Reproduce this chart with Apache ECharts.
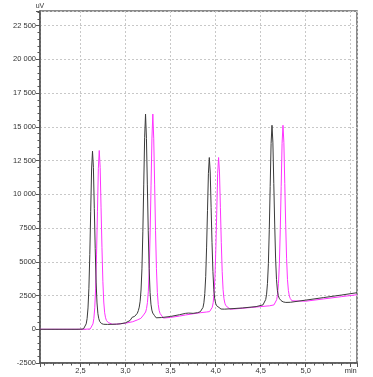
<!DOCTYPE html>
<html>
<head>
<meta charset="utf-8">
<script src="https://cdn.jsdelivr.net/npm/echarts@6/dist/echarts.min.js"></script>
<style>
html,body{margin:0;padding:0;background:#fff;}
#chart{width:373px;height:377px;}
</style>
</head>
<body>
<div id="chart"></div>
<script>
// Chromatogram traces: [time (min), signal (uV)]
const blackTrace = [
  [2.05,0],[2.45,0],[2.5,5],[2.533,26],[2.553,160],[2.563,400],[2.573,790],[2.583,1580],
  [2.593,3040],[2.603,5540],[2.613,8710],[2.623,11880],[2.633,13200],[2.643,12000],
  [2.653,8950],[2.663,5990],[2.673,3500],[2.683,1950],[2.693,1150],[2.703,780],[2.713,580],
  [2.733,420],[2.756,370],[2.8,360],[2.9,380],[2.94,400],[3.0,480],[3.05,650],[3.074,890],
  [3.1,950],[3.13,1180],[3.142,1380],[3.152,1640],[3.162,2080],[3.172,2910],[3.182,4480],
  [3.192,7220],[3.202,10700],[3.212,14230],[3.222,15950],[3.232,14130],[3.242,10700],
  [3.252,7300],[3.262,4500],[3.272,2740],[3.282,1860],[3.292,1420],[3.302,1200],[3.322,1010],
  [3.34,850],[3.4,870],[3.5,950],[3.6,1080],[3.667,1180],[3.7,1200],[3.75,1180],[3.8,1230],
  [3.83,1300],[3.85,1420],[3.86,1620],[3.87,1960],[3.88,2650],[3.89,3900],[3.9,6090],
  [3.91,8820],[3.92,11560],[3.93,12730],[3.94,11660],[3.95,9040],[3.96,6440],[3.97,4290],
  [3.98,2930],[3.99,2260],[4.0,1930],[4.01,1755],[4.03,1617],[4.06,1500],[4.1,1490],
  [4.3,1580],[4.45,1680],[4.526,1807],[4.546,1950],[4.556,2200],[4.566,2600],[4.576,3400],
  [4.586,4860],[4.596,7390],[4.606,10580],[4.616,13770],[4.626,15120],[4.636,13870],
  [4.646,10810],[4.656,7800],[4.666,5280],[4.676,3690],[4.686,2890],[4.696,2500],[4.706,2300],
  [4.726,2130],[4.75,2030],[4.78,1990],[4.83,2000],[5.0,2160],[5.2,2350],[5.4,2540],[5.57,2710]
];
const magentaTrace = [
  [2.05,0],[2.55,0],[2.608,26],[2.628,160],[2.638,400],[2.648,790],[2.658,1590],[2.668,3050],
  [2.678,5570],[2.688,8750],[2.698,11930],[2.708,13250],[2.718,12000],[2.728,9000],[2.738,6050],
  [2.748,3560],[2.758,2020],[2.768,1220],[2.778,850],[2.788,650],[2.808,500],[2.83,420],
  [2.852,370],[2.9,380],[3.0,450],[3.02,470],[3.08,560],[3.13,690],[3.17,810],[3.2,1060],
  [3.223,1280],[3.233,1540],[3.243,1980],[3.253,2820],[3.263,4390],[3.273,7140],[3.283,10630],
  [3.293,14170],[3.303,15950],[3.313,14120],[3.323,10700],[3.333,7300],[3.343,4500],
  [3.353,2730],[3.363,1840],[3.373,1400],[3.383,1180],[3.403,990],[3.42,830],[3.5,880],
  [3.6,980],[3.667,1060],[3.75,1150],[3.833,1230],[3.9,1280],[3.933,1310],[3.953,1430],
  [3.963,1630],[3.973,1970],[3.983,2660],[3.993,3910],[4.003,6090],[4.013,8820],[4.023,11560],
  [4.033,12730],[4.043,11660],[4.053,9040],[4.063,6440],[4.073,4290],[4.083,2930],[4.093,2260],
  [4.103,1930],[4.113,1755],[4.133,1620],[4.16,1490],[4.2,1500],[4.4,1620],[4.6,1740],
  [4.648,1807],[4.668,1950],[4.678,2190],[4.688,2590],[4.698,3390],[4.708,4850],[4.718,7380],
  [4.728,10570],[4.738,13760],[4.748,15120],[4.758,13860],[4.768,10800],[4.778,7790],
  [4.788,5270],[4.798,3680],[4.808,2880],[4.818,2490],[4.828,2290],[4.848,2110],[4.87,1990],
  [5.0,2080],[5.2,2250],[5.4,2420],[5.57,2560]
];
const xUnitLabel = 'min';
const yUnitLabel = 'uV';
const xUnitAt = 5.5;

const FONT = 'Liberation Sans';
const axisColor = '#555';
const gridLineStyle = { color: '#c8c8c8', type: [2, 2], width: 1 };

function fmtY(v) {
  const a = Math.abs(v);
  if (a >= 10000) {
    const s = String(a);
    const t = s.slice(0, s.length - 3) + ' ' + s.slice(s.length - 3);
    return (v < 0 ? '-' : '') + t;
  }
  return String(v);
}
function fmtX(v) {
  if (Math.abs(v - xUnitAt) < 1e-6) return xUnitLabel;
  return v.toFixed(1).replace('.', ',');
}

const chart = echarts.init(document.getElementById('chart'), null, { renderer: 'canvas' });
chart.setOption({
  animation: false,
  backgroundColor: '#fff',
  grid: { left: 40, top: 11, right: 16, bottom: 14, show: true, borderColor: '#666', borderWidth: 1.5, backgroundColor: 'transparent' },
  xAxis: {
    type: 'value', min: 2.05, max: 5.57, splitNumber: 7,
    axisLine: { show: true, onZero: false, lineStyle: { color: axisColor, width: 1.5 } },
    axisTick: { show: true, length: 4, lineStyle: { color: axisColor } },
    minorTick: { show: true, splitNumber: 5, length: 2.5, lineStyle: { color: axisColor } },
    axisLabel: {
      margin: 4, fontSize: 7.5, fontFamily: FONT, color: '#333',
      showMinLabel: false, showMaxLabel: false, formatter: fmtX
    },
    splitLine: { show: true, lineStyle: gridLineStyle }
  },
  yAxis: {
    type: 'value', min: -2500, max: 23590, interval: 2500,
    name: yUnitLabel, nameLocation: 'end', nameGap: 1,
    nameTextStyle: { fontSize: 7, fontFamily: FONT, color: '#333', align: 'center' },
    axisLine: { show: true, onZero: false, lineStyle: { color: axisColor, width: 1.5 } },
    axisTick: { show: true, length: 4, lineStyle: { color: axisColor } },
    minorTick: { show: true, splitNumber: 5, length: 2.5, lineStyle: { color: axisColor } },
    axisLabel: { margin: 4, fontSize: 7.5, fontFamily: FONT, color: '#333', formatter: fmtY, showMaxLabel: false },
    splitLine: { show: true, lineStyle: gridLineStyle }
  },
  series: [
    {
      type: 'line', data: magentaTrace, showSymbol: false, symbol: 'none',
      lineStyle: { color: '#ff33ff', width: 1 }, z: 2
    },
    {
      type: 'line', data: blackTrace, showSymbol: false, symbol: 'none',
      lineStyle: { color: '#3a3a3a', width: 1 }, z: 3
    }
  ]
});
</script>
</body>
</html>
